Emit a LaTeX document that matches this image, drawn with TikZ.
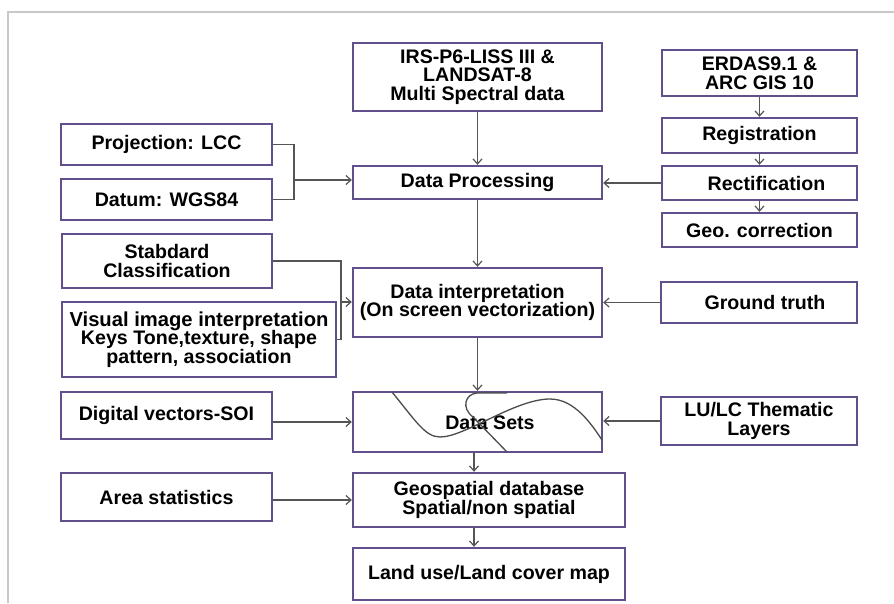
\documentclass[tikz,border=0pt]{standalone}
\usepackage{fontspec}
\setmainfont{Liberation Sans}
\usetikzlibrary{arrows.meta,calc}
\definecolor{boxc}{RGB}{98,80,140}
\definecolor{arrc}{RGB}{85,85,85}
\definecolor{framec}{RGB}{200,200,200}
\tikzset{
  box/.style={draw=boxc, line width=2.4pt, fill=white, inner sep=0pt, align=center,
    font=\bfseries\fontsize{19.6}{18.5}\selectfont, text=black},
  conn/.style={draw=arrc, line width=1.2pt},
  arr/.style={conn, -{Straight Barb[length=5pt,width=9pt,line width=1.2pt]}},
  curvy/.style={draw=arrc!90!black, line width=1.3pt},
}
\begin{document}
\begin{tikzpicture}[x=1pt,y=-1pt]
\useasboundingbox (0,0) rectangle (894,603);
\fill[white] (0,0) rectangle (894,603);
\draw[framec, line width=1.5pt] (8,603) -- (8,12) -- (894,12);

% centre column
\node[box, minimum width=249, minimum height=68] (irs) at (477.5,77) {IRS-P6-LISS III \&\\LANDSAT-8\\Multi Spectral data};
\node[box, minimum width=249, minimum height=33] (dp) at (477.5,182.5) {Data Processing};
\node[box, minimum width=249, minimum height=69] (di) at (477.5,302.5) {Data interpretation\\(On screen vectorization)};
\node[box, minimum width=249, minimum height=60] (ds) at (477.5,422) {};
\node[font=\bfseries\fontsize{19.6}{18.5}\selectfont] (dst) at (490,423) {Data Sets};
\node[box, minimum width=272, minimum height=54] (geo) at (489,500) {Geospatial database\\Spatial/non spatial};
\node[box, minimum width=272, minimum height=52] (lu) at (489,574) {Land use/Land cover map};

% left column
\node[box, minimum width=211, minimum height=41] (proj) at (166.5,144.5) {Projection: LCC};
\node[box, minimum width=211, minimum height=41] (datum) at (166.5,199.5) {Datum: WGS84};
\node[box, minimum width=210, minimum height=54] (std) at (167,261) {Stabdard\\Classification};
\node[box, minimum width=274, minimum height=75] (vis) at (199,339.5) {\fontsize{20.2}{17}\selectfont Visual image interpretation\\Keys Tone,texture, shape\\pattern, association};
\node[box, minimum width=211, minimum height=47] (dig) at (166.5,415.5) {Digital vectors-SOI};
\node[box, minimum width=211, minimum height=48] (area) at (166.5,497) {Area statistics};

% right column
\node[box, minimum width=195, minimum height=46] (erdas) at (759.5,73) {ERDAS9.1 \&\\ARC GIS 10};
\node[box, minimum width=195, minimum height=35] (reg) at (759.5,135.5) {Registration};
\node[box, minimum width=195, minimum height=34] (rect) at (759.5,183) {\hspace*{14pt}Rectification};
\node[box, minimum width=195, minimum height=34] (geoc) at (759.5,230) {Geo. correction};
\node[box, minimum width=196, minimum height=41] (gt) at (759,302.5) {\hspace*{12pt}Ground truth};
\node[box, minimum width=196, minimum height=48] (lulc) at (759,421) {LU/LC Thematic\\Layers};

% curves inside Data Sets
\draw[curvy] (392,392) .. controls (415,420) and (425,437) .. (440,437)
  .. controls (465,437) and (515,399) .. (550,399)
  .. controls (575,399) and (592,425) .. (602,440);
\draw[curvy] (507,393) -- (477,393) .. controls (465,394) and (461,408) .. (473,417) -- (507,452);

% centre arrows
\draw[arr] (irs.south) -- (dp.north);
\draw[arr] (dp.south) -- (di.north);
\draw[arr] (di.south) -- (ds.north);
\coordinate (c1) at (474,452);
\draw[arr] (c1) -- (c1 |- geo.north);
\coordinate (c2) at (474,527);
\draw[arr] (c2) -- (c2 |- lu.north);

% left connectors
\coordinate (j1) at (294,180);
\draw[conn] (proj.east) -| (j1) |- (datum.east);
\draw[arr] (j1) -- (j1 -| dp.west);
\coordinate (j2) at (341,302);
\draw[conn] (std.east) -| (j2) |- (vis.east);
\draw[arr] (j2) -- (j2 -| di.west);
\draw[arr] (ds.west -| dig.east) -- (ds.west);
\draw[arr] (geo.west -| area.east) -- (geo.west);

% right connectors
\draw[arr] (erdas.south) -- (reg.north);
\draw[arr] (reg.south) -- (rect.north);
\draw[arr] (rect.south) -- (geoc.north);
\draw[arr] (rect.west) -- (rect.west -| dp.east);
\draw[arr] (gt.west) -- (gt.west -| di.east);
\draw[arr] (lulc.west) -- (lulc.west -| ds.east);
\end{tikzpicture}
\end{document}
